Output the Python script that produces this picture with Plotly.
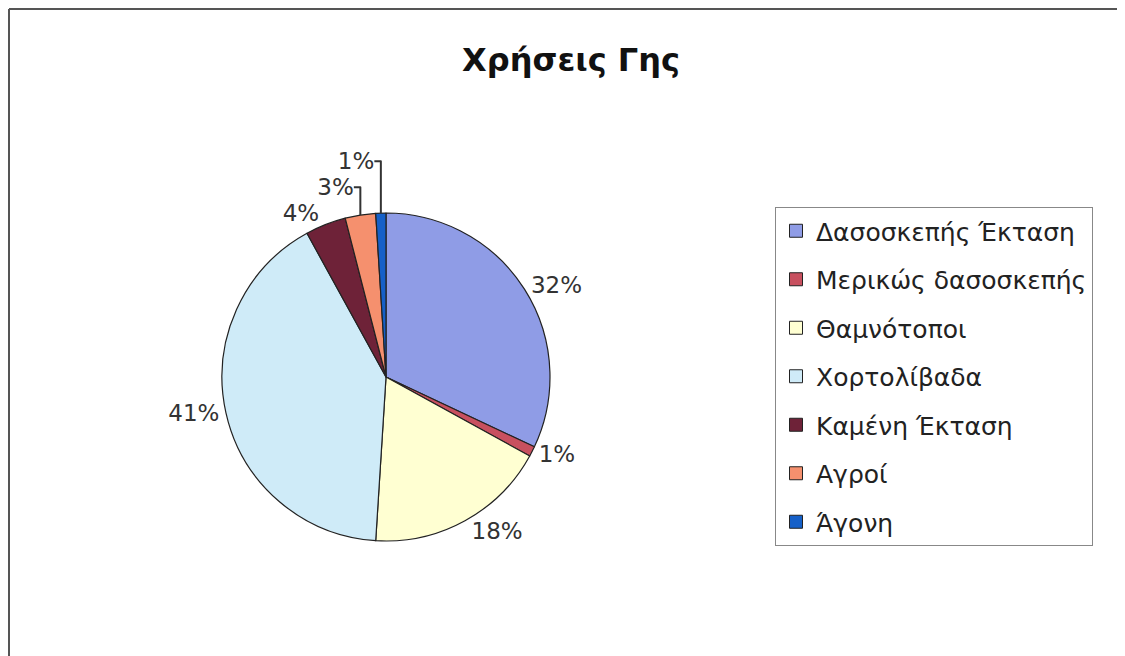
"""Pie chart of land uses (Χρήσεις Γης) with a boxed legend on the right."""
from plotly import graph_objects as go

labels = [
    "Δασοσκεπής Έκταση",
    "Μερικώς δασοσκεπής",
    "Θαμνότοποι",
    "Χορτολίβαδα",
    "Καμένη Έκταση",
    "Αγροί",
    "Άγονη",
]
shares = [32, 1, 18, 41, 4, 3, 1]
colours = ["#8F9CE6", "#C8505F", "#FFFFD2", "#CFEBF8", "#6E2238", "#F5906E", "#1560C8"]

W, H = 1125, 656
OFFSET = 8  # the page body margin puts the figure 8px in from the window corner
FONT = "DejaVu Sans, Verdana, sans-serif"


def px_x(x):
    return (x - OFFSET) / W


def px_y(y):
    return 1 - (y - OFFSET) / H


fig = go.Figure()
fig.add_trace(
    go.Pie(
        labels=labels,
        values=shares,
        sort=False,
        direction="clockwise",
        rotation=0,
        marker={"colors": colours, "line": {"color": "#222222", "width": 1.2}},
        texttemplate="%{value}%",
        textposition="outside",
        outsidetextfont={"family": FONT, "size": 23, "color": "#333333"},
        showlegend=False,
        hoverinfo="label+percent",
        domain={"x": [px_x(222), px_x(550)], "y": [px_y(541), px_y(213)]},
    )
)

# legend entries as separate traces so the rows can be spaced apart
for i, (name, colour) in enumerate(zip(labels, colours)):
    fig.add_trace(
        go.Scatter(
            x=[None],
            y=[None],
            mode="markers",
            name=name,
            legendgroup=str(i),
            marker={"symbol": "square", "size": 13, "color": colour,
                    "line": {"color": "#222222", "width": 1}},
        )
    )

fig.update_layout(
    width=W,
    height=H,
    margin={"l": 0, "r": 0, "t": 0, "b": 0},
    paper_bgcolor="white",
    plot_bgcolor="white",
    xaxis={"visible": False},
    yaxis={"visible": False},
    title={
        "text": "<b>Χρήσεις Γης</b>",
        "x": px_x(571),
        "xanchor": "center",
        "y": px_y(60),
        "yanchor": "middle",
        "font": {"family": FONT, "size": 32, "color": "#111111"},
    },
    legend={
        "x": px_x(775),
        "xanchor": "left",
        "y": px_y(207),
        "yanchor": "top",
        "bordercolor": "#888888",
        "borderwidth": 1,
        "bgcolor": "white",
        "tracegroupgap": 13,
        "font": {"family": FONT, "size": 25, "color": "#222222"},
        "itemclick": False,
    },
    showlegend=True,
)

# outer chart frame (top and left edges visible in the reference)
fig.add_shape(type="line", xref="paper", yref="paper", x0=px_x(9), x1=1, y0=px_y(9), y1=px_y(9),
              line={"color": "#555555", "width": 2})
fig.add_shape(type="line", xref="paper", yref="paper", x0=px_x(9), x1=px_x(9), y0=0, y1=px_y(9),
              line={"color": "#555555", "width": 2})

fig.write_html("out.html")
